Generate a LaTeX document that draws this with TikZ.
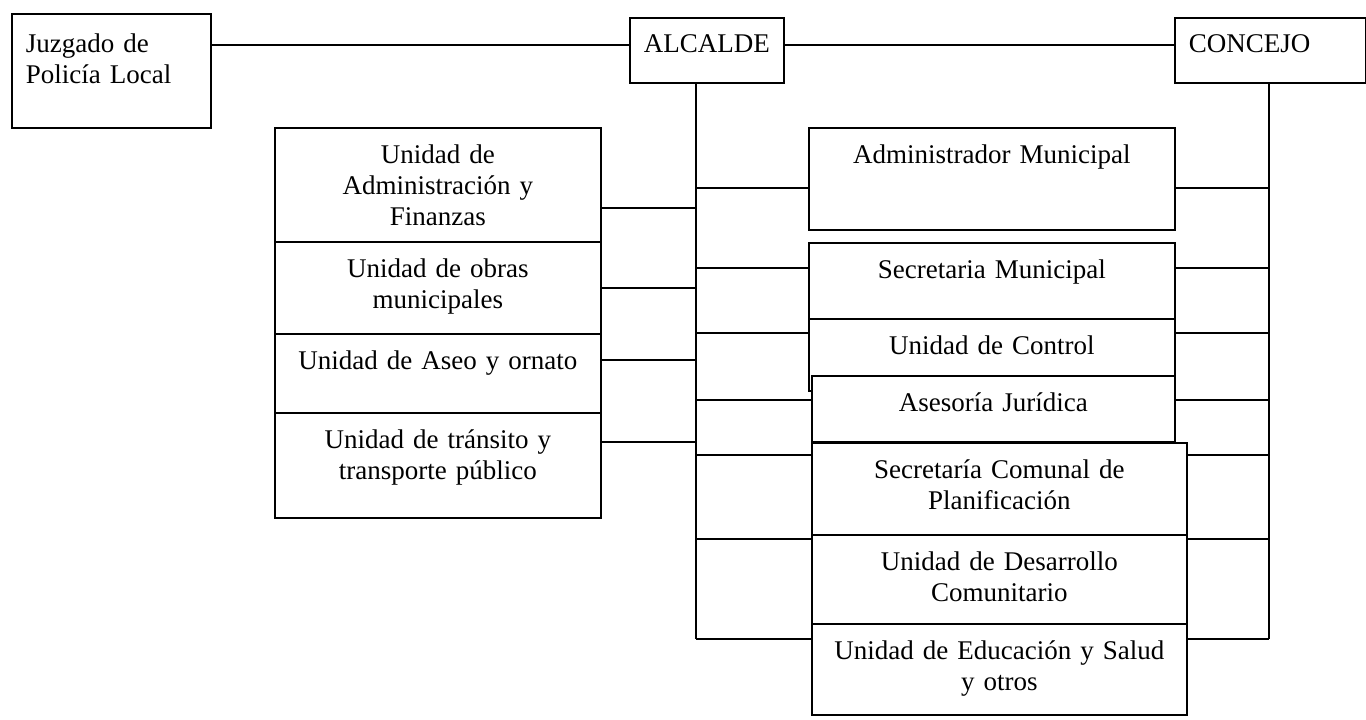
\documentclass[tikz,border=0pt]{standalone}
\usepackage{fontspec}
\setmainfont{Liberation Serif}
\tikzset{unit/.style={draw, fill=white, anchor=north west, inner xsep=0pt, inner ysep=0pt,
    align=center, text height=18pt, font=\fontsize{13.5}{15.5}\selectfont}}
\tikzset{head/.style={unit, align=left, inner xsep=7pt}}

\begin{document}
\begin{tikzpicture}[x=0.5pt,y=-0.5pt,line width=0.8pt]
      \useasboundingbox (0,0) rectangle (1366,719);
      \node[head, text width=85.5pt, text height=19.5pt, text depth=37.5pt] (juzgado) at (11,13) {Juzgado de\\Policía Local};
      \node[head, text width=63pt, text height=17.5pt, text depth=15pt] (alcalde) at (629,17) {ALCALDE};
      \node[head, text width=81.5pt, text height=17.5pt, text depth=15pt] (concejo) at (1174,17) {CONCEJO};
      \node[unit, text width=163pt, text depth=39pt] (adminfin) at (274,127) {Unidad de\\Administración y\\Finanzas};
      \node[unit, text width=163pt, text depth=28pt] (obras) at (274,241) {Unidad de obras\\municipales};
      \node[unit, text width=163pt, text depth=21.5pt] (aseo) at (274,333) {Unidad de Aseo y ornato};
      \node[unit, text width=163pt, text depth=34.5pt] (transito) at (274,412) {Unidad de tránsito y\\transporte público};
      \node[unit, text width=183pt, text depth=33pt] (admmun) at (808,127) {Administrador Municipal};
      \node[unit, text width=183pt, text depth=20pt] (secmun) at (808,242) {Secretaria Municipal};
      \node[unit, text width=183pt, text depth=18pt] (control) at (808,318) {Unidad de Control};
      \node[unit, text width=181.5pt, text depth=15pt] (asesoria) at (811,375) {Asesoría Jurídica};
      \node[unit, text width=187.5pt, text depth=28pt] (secomunal) at (811,442) {Secretaría Comunal de\\Planificación};
      \node[unit, text width=187.5pt, text depth=26.5pt] (desarrollo) at (811,534) {Unidad de Desarrollo\\Comunitario};
      \node[unit, text width=187.5pt, text depth=27.5pt] (educacion) at (811,623) {Unidad de Educación y Salud\\y otros};
      \coordinate (abus) at (696,639);
      \coordinate (cbus) at (1269,639);
      \draw ([yshift=-14pt]alcalde.north west) coordinate (a) -- (a -| juzgado.east);
      \draw ([yshift=-14pt]alcalde.north east) coordinate (b) -- (b -| concejo.west);
      \draw (alcalde.south -| abus) -- (abus);
      \draw (concejo.south -| cbus) -- (cbus);
      \foreach \n/\d in {adminfin/40.5,obras/23.5,aseo/13.5,transito/15}
        \draw ([yshift=-\d pt]\n.north east) coordinate (p) -- (p -| abus);
      \foreach \n/\d in {admmun/30.5,secmun/13,control/7.5,asesoria/12.5,secomunal/6.5,desarrollo/2.5,educacion/8}
        \draw ([yshift=-\d pt]\n.north west) coordinate (p) -- (p -| abus)
              ([yshift=-\d pt]\n.north east) coordinate (q) -- (q -| cbus);
    \end{tikzpicture}
\end{document}
